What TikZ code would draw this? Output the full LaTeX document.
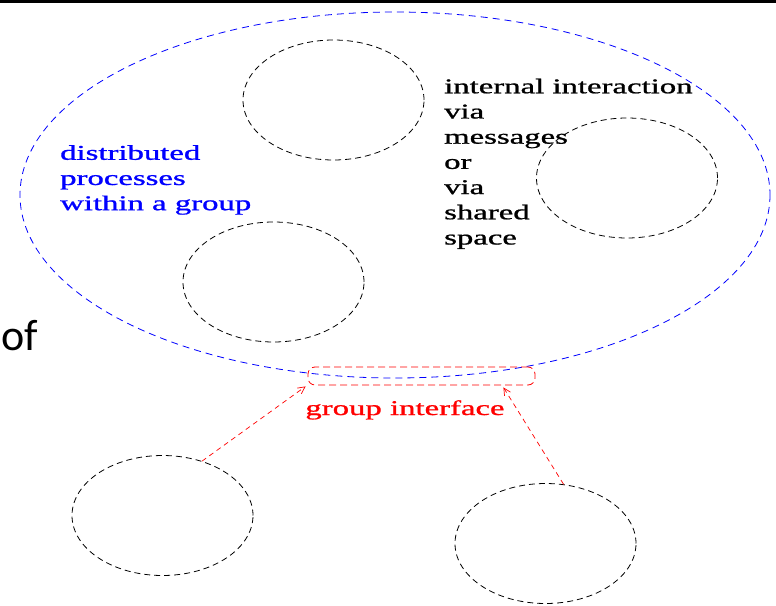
\documentclass[tikz,border=0pt]{standalone}
\usepackage{fontspec}
\usepackage{graphicx}
\setmainfont{Liberation Serif}
\newfontfamily\figfont[FakeBold=0.9]{Liberation Serif}
\newfontfamily\slidefont{Carlito}
\usetikzlibrary{arrows.meta,calc,shapes.geometric}
\newcommand{\stretchtext}[1]{\scalebox{1.56}[1]{#1}}
\begin{document}
\begin{tikzpicture}[x=1pt,y=-1pt,
  process/.style={draw=black, line width=0.8pt, dash pattern=on 6pt off 4pt,
    ellipse, minimum width=181pt, minimum height=120pt, inner sep=0pt},
  groupline/.style={draw=blue, line width=0.8pt, dash pattern=on 7pt off 5pt},
  iface/.style={draw=red, line width=0.8pt, dash pattern=on 7pt off 4pt,
    rounded corners=7pt, minimum width=227pt, minimum height=18pt, inner sep=0pt},
  request/.style={draw=red, line width=0.7pt, dash pattern=on 5pt off 4pt,
    -{Straight Barb[length=7pt,width=7pt]}},
  label/.style={inner sep=0pt, align=left, font=\figfont\fontsize{21}{25.2}\selectfont}]
  \useasboundingbox (0,0) rectangle (776,605);
  % top rule of the slide
  \fill[black] (0,0) rectangle (776,3);
  % the group boundary
  \draw[groupline] (395,195) ellipse [x radius=375, y radius=183];
  % processes inside the group
  \node[process] (p1) at (333.5,100) {};
  \node[process] (p2) at (627,178) {};
  \node[process] (p3) at (273.5,282) {};
  % processes outside the group
  \node[process] (c1) at (162.5,515.5) {};
  \node[process] (c2) at (545.5,543.5) {};
  % group interface
  \node[iface] (gi) at (421.5,376) {};
  \coordinate (t1) at ($(gi.south west)+(-2,1)$);
  \coordinate (t2) at ($(gi.south east)+(-32,2)$);
  \draw[request] (c1.54) -- (t1);
  \draw[request] (c2.73) -- (t2);
  % labels
  \node[label, text=blue, anchor=north west] (lgroup) at (60,145)
    {\stretchtext{distributed}\\\stretchtext{processes}\\\stretchtext{within a group}};
  \node[label, text=black, anchor=north west] (linternal) at (444,78.5)
    {\stretchtext{internal interaction}\\\stretchtext{via}\\\stretchtext{messages}\\
     \stretchtext{or}\\\stretchtext{via}\\\stretchtext{shared}\\\stretchtext{space}};
  \node[label, text=red, anchor=base] (liface) at (405,415)
    {\stretchtext{group interface}};
  \node[inner sep=0pt, anchor=base west, font=\slidefont\fontsize{44}{50}\selectfont]
    (lof) at (1,350) {of};
\end{tikzpicture}
\end{document}
